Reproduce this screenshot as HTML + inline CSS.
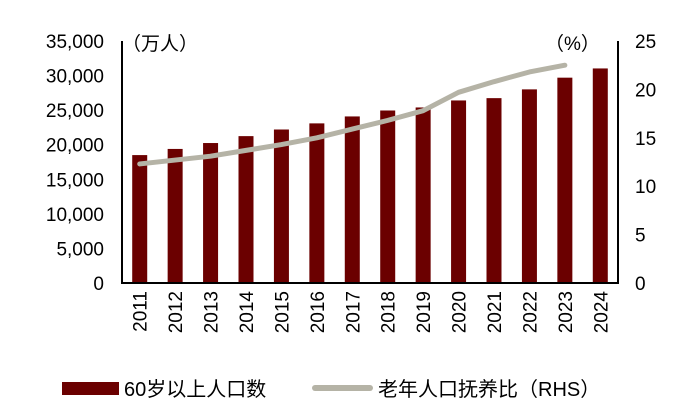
<!DOCTYPE html>
<html><head><meta charset="utf-8"><style>
body{margin:0;background:#fff;}
svg text{font-family:"Liberation Sans","Noto Sans CJK SC",sans-serif;fill:#000;}
</style></head><body>
<svg width="687" height="415" xmlns="http://www.w3.org/2000/svg">
<g id="g"></g>
</svg>
<script>
const categories=["2011","2012","2013","2014","2015","2016","2017","2018","2019","2020","2021","2022","2023","2024"];
const popValues=[18499,19390,20243,21242,22200,23086,24090,24949,25388,26402,26736,28004,29697,31031];
const ratioValues=[12.3,12.7,13.1,13.7,14.3,15.0,15.9,16.8,17.8,19.7,20.8,21.8,22.5];
const leftTicks=[0,5000,10000,15000,20000,25000,30000,35000];
const rightTicks=[0,5,10,15,20,25];
const NS="http://www.w3.org/2000/svg";
const g=document.getElementById('g');
const X0=122,X1=618,Y0=283,Y1=41;
const yL=v=>Y0-(v/35000)*(Y0-Y1);
const yR=v=>Y0-(v/25)*(Y0-Y1);
const step=(X1-X0)/categories.length;
const xC=i=>X0+step*(i+0.5);
function mk(t,a,txt){const e=document.createElementNS(NS,t);for(const k in a)e.setAttribute(k,a[k]);if(txt!==undefined)e.textContent=txt;g.appendChild(e);return e;}
popValues.forEach((v,i)=>{
 const r=mk('rect',{x:xC(i)-7.5,y:yL(v),width:15,height:Y0-yL(v),fill:'#6b0000'});
 
 
});
const p=mk('polyline',{points:ratioValues.map((v,i)=>xC(i)+','+yR(v)).join(' '),fill:'none',stroke:'#b5b3a6','stroke-width':5,'stroke-linecap':'round','stroke-linejoin':'round'});


const ax=mk('path',{d:`M${X0},${Y1} V${Y0} H${X1} V${Y1}`,fill:'none',stroke:'#000','stroke-width':2});


leftTicks.forEach(v=>{
 const t=mk('text',{x:X0-18,y:yL(v)+7,'text-anchor':'end','font-size':19},v.toLocaleString('en-US'));
 
 
});
rightTicks.forEach(v=>{
 const t=mk('text',{x:X1+17,y:yR(v)+7,'text-anchor':'start','font-size':19},String(v));
 
 
});
categories.forEach((c,i)=>{
 const t=mk('text',{transform:`translate(${xC(i)+7},${Y0+8}) rotate(-90)`,'text-anchor':'end','font-size':19},c);
 
 
});
</script>
<svg width="687" height="415" style="position:absolute;left:0;top:0" xmlns="http://www.w3.org/2000/svg">
<text x="122" y="50" font-size="19">（万人）</text>
<text x="545" y="50" font-size="19">（%）</text>
<rect x="62" y="382" width="57" height="13" fill="#6b0000"/>
<text x="124" y="396" font-size="20">60岁以上人口数</text>
<line x1="315" y1="388" x2="370" y2="388" stroke="#b5b3a6" stroke-width="6" stroke-linecap="round"/>
<text x="378" y="396" font-size="20">老年人口抚养比（RHS）</text>
</svg>
</body></html>
